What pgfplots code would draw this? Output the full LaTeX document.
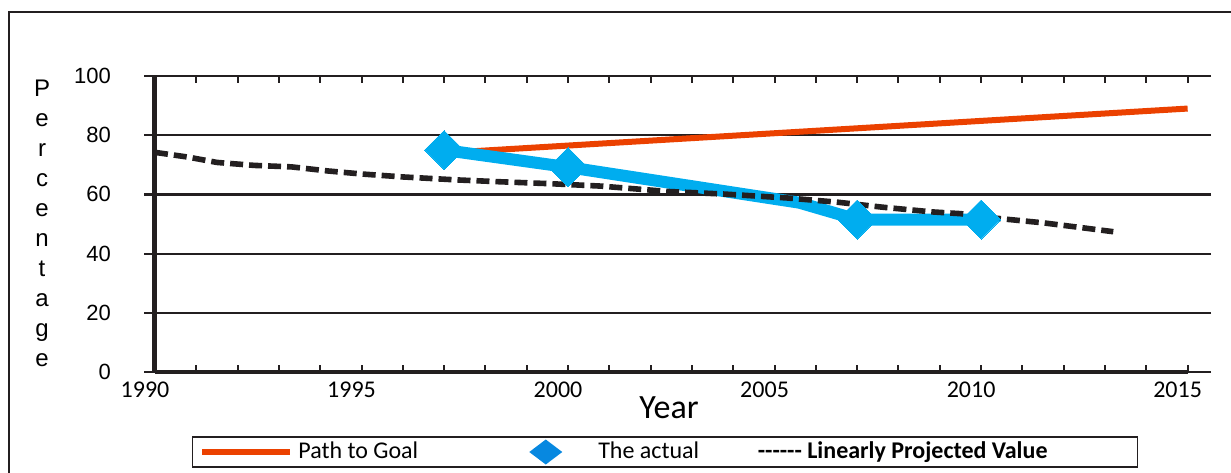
\documentclass[border=0pt]{standalone}
\usepackage{fontspec}
\setmainfont{Carlito}
\newfontfamily\arial{Liberation Sans}
\usepackage{pgfplots}
\pgfplotsset{compat=1.18}

\definecolor{axisdark}{HTML}{231F20}
\definecolor{pathred}{HTML}{EB4100}
\definecolor{actualblue}{HTML}{00ADEF}
\definecolor{legendblue}{HTML}{0788E0}

\begin{document}
\begin{tikzpicture}
% page size and the outer chart frame
\useasboundingbox (0,0) rectangle (615.5pt,236pt);
\draw[axisdark, line width=1pt] (4.5pt,-5pt) -- (4.5pt,230pt) -- (625pt,230pt);

\begin{axis}[
  at={(77.5pt,50pt)}, anchor=south west,
  scale only axis, width=522.5pt, height=148pt,
  xmin=1990, xmax=2015.3, ymin=0, ymax=100,
  clip=false,
  axis line style={draw=none},
  ytick={0,20,...,100},
  xtick={1990,1995,...,2015},
  minor xtick={1990,1991,...,2015},
  ymajorgrids,
  grid style={axisdark, line width=1.1pt},
  ytick align=outside,
  major tick length=5.5pt,
  minor tick length=3.5pt,
  ytick style={axisdark, line width=1.1pt},
  major x tick style={draw=none},
  minor x tick style={axisdark, line width=1pt},
  /pgf/number format/assume math mode=true,
  /pgf/number format/1000 sep={},
  xticklabel style={font=\fontsize{12}{14}\selectfont, xshift=-5pt, yshift=-1.5pt},
  yticklabel style={font=\arial\fontsize{11}{13}\selectfont, xshift=-13pt},
  xlabel={Year},
  xlabel style={at={(axis description cs:0.4919,0)}, anchor=center, yshift=-18pt,
    font=\fontsize{17}{20}\selectfont},
  ylabel={P\\e\\r\\c\\e\\n\\t\\a\\g\\e},
  every axis y label/.style={at={(axis description cs:-0.1081,0.503)}, anchor=center,
    align=center, font=\arial\fontsize{12}{15}\selectfont},
  legend columns=3,
  legend style={
    at={(axis description cs:0.488,0)}, anchor=center, yshift=-40pt,
    draw=axisdark, line width=0.7pt,
    inner xsep=3.5pt, inner ysep=1.25pt,
    column sep=0pt, row sep=0pt,
    font=\fontsize{12}{14}\selectfont,
    nodes={inner sep=0pt, text height=8.6pt, text depth=2.4pt},
  },
  legend cell align=left,
]

% goal path
\addplot[pathred, line width=3pt,
  legend image code/.code={\draw[pathred, line width=3pt] (0pt,0pt) -- (44pt,0pt);}]
  coordinates {(1997,74) (2015,89)};
\addlegendentry{\hspace{2.5pt}Path to Goal\hspace{55.5pt}\mbox{}}

% actual values
\addplot[actualblue, line width=6pt, line join=round,
  mark=square*, mark indices={1,2,4,5}, mark size=6.9pt,
  mark options={rotate=45, draw=none, fill=actualblue, line width=0pt},
  legend image code/.code={\path[fill=legendblue, draw=none, line width=0pt]
    (0pt,0pt) -- (8.25pt,6.25pt) -- (16.5pt,0pt) -- (8.25pt,-6.25pt) -- cycle;}]
  coordinates {(1997,75) (2000,69.2) (2005.6,57.2) (2007,51.5) (2010,51.5)};
\addlegendentry{\hspace{18pt}The actual\hspace{26.5pt}\mbox{}}

% linear projection
\addplot[axisdark, line width=2.8pt, dash pattern=on 6.5pt off 3pt,
  legend image code/.code={\path (0pt,0pt);}]
  coordinates {
    (1990,74.2) (1990.8,72.6) (1991.5,70.8) (1992.4,69.8) (1993.3,69.3)
    (1994.2,67.9) (1995.0,66.9) (1996.0,65.9) (1997.3,64.9) (1998.3,64.3)
    (1999.6,63.6) (2000.8,62.8) (2002.4,61.0) (2003.8,60.1) (2005.3,58.8)
    (2006.5,57.4) (2007.6,55.7) (2008.8,54.1) (2009.5,53.5) (2010.4,51.9)
    (2011.5,50.4) (2012.3,49.0) (2013.2,47.4)
  };
\addlegendentry{\textbf{{-}{-}{-}{-}{-}{-} Linearly Projected Value}\hspace{41.5pt}\mbox{}}

% axis lines
\draw[axisdark, line width=2.5pt] (axis cs:1990,0) -- (axis cs:1990,100);
\draw[axisdark, line width=2.4pt] (axis cs:1990,0) -- (axis cs:2015,0);
\end{axis}
\end{tikzpicture}
\end{document}
